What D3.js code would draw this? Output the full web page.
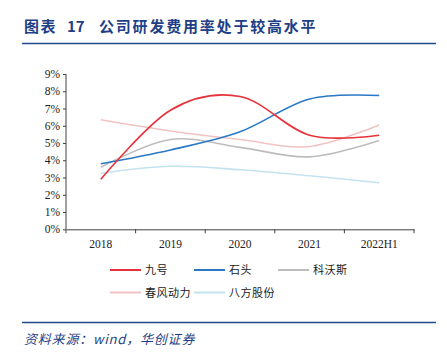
<!DOCTYPE html>
<html>
<head>
<meta charset="utf-8">
<script src="https://cdn.jsdelivr.net/npm/d3@7"></script>
<style>
  body { margin: 0; background: #fff; }
  svg { display: block; }
</style>
</head>
<body>
<svg id="chart" width="447" height="353"></svg>
<script>
// data (R&D expense ratio, %)
var years = ["2018", "2019", "2020", "2021", "2022H1"];
var ninebot = [2.9, 6.9, 7.7, 5.45, 5.45];
var roborock = [3.8, 4.6, 5.65, 7.55, 7.75];
var ecovacs = [3.6, 5.2, 4.75, 4.2, 5.15];
var cfmoto = [6.35, 5.7, 5.2, 4.8, 6.05];
var bafang = [3.25, 3.65, 3.45, 3.1, 2.7];
var yTicks = [0, 1, 2, 3, 4, 5, 6, 7, 8, 9];

var series = [
  { name: "九号", values: ninebot, color: "#e8323b" },
  { name: "石头", values: roborock, color: "#2a78c6" },
  { name: "科沃斯", values: ecovacs, color: "#bdbdbd" },
  { name: "春风动力", values: cfmoto, color: "#f2c3c3" },
  { name: "八方股份", values: bafang, color: "#c3e3ef" }
];

var svg = d3.select("#chart");
var blue = "#1f3f86";

// title, in three pieces to keep the original spacing
[[24, "图表", 1.5], [67, "17", 0], [99, "公司研发费用率处于较高水平", 1.8]].forEach(function(t){
  svg.append("text")
    .attr("x", t[0]).attr("y", 32)
    .attr("font-family", "Noto Sans CJK SC")
    .attr("font-size", 15).attr("font-weight", "bold")
    .attr("letter-spacing", t[2])
    .attr("fill", blue)
    .text(t[1]);
});
svg.append("line")
  .attr("x1", 22).attr("x2", 436).attr("y1", 43.5).attr("y2", 43.5)
  .attr("stroke", "#1f4a8c").attr("stroke-width", 1.5);

var x = d3.scaleBand().domain(years).range([66, 414]);
var y = d3.scaleLinear().domain([0, 9]).range([229.3, 74]);

// y axis
var yAxis = svg.append("g")
  .attr("transform", "translate(66,0)")
  .call(d3.axisLeft(y).tickValues(yTicks).tickSize(3).tickFormat(function(d){ return d + "%"; }));
// x axis
var xAxis = svg.append("g")
  .attr("transform", "translate(0," + y(0) + ")")
  .call(d3.axisBottom(x).tickSize(0));
xAxis.selectAll(".tick text").attr("dy", "1.35em");
// ticks at band edges
svg.selectAll(".xedge")
  .data(years.concat(["end"]))
  .enter().append("line")
  .attr("x1", function(d, i){ return i < years.length ? x(d) : x.range()[1]; })
  .attr("x2", function(d, i){ return i < years.length ? x(d) : x.range()[1]; })
  .attr("y1", y(0)).attr("y2", y(0) + 4)
  .attr("stroke", "#404040");

[yAxis, xAxis].forEach(function(g){
  g.selectAll("path, line").attr("stroke", "#404040");
  g.selectAll("text")
    .attr("font-family", "Liberation Serif")
    .attr("font-size", 11.5)
    .attr("fill", "#222");
});
yAxis.selectAll("path").attr("d", "M0," + y(9) + "V" + y(0));

var line = d3.line()
  .x(function(d, i){ return x(years[i]) + x.bandwidth() / 2; })
  .y(function(d){ return y(d); })
  .curve(d3.curveCatmullRom.alpha(0));

// draw lighter series first so the strong ones sit on top
var order = [3, 4, 2, 1, 0];
order.forEach(function(k){
  var s = series[k];
  svg.append("path")
    .datum(s.values)
    .attr("d", line)
    .attr("fill", "none")
    .attr("stroke", s.color)
    .attr("stroke-width", 1.6);
});

// legend
var legendPos = [[110, 270], [194, 270], [278, 270], [110, 292.5], [194, 292.5]];
series.forEach(function(s, i){
  var p = legendPos[i];
  svg.append("line")
    .attr("x1", p[0]).attr("x2", p[0] + 31)
    .attr("y1", p[1]).attr("y2", p[1])
    .attr("stroke", s.color).attr("stroke-width", 2);
  svg.append("text")
    .attr("x", p[0] + 35).attr("y", p[1] + 4)
    .attr("font-family", "Noto Sans CJK SC")
    .attr("font-size", 11)
    .attr("letter-spacing", 0.5)
    .attr("fill", "#222")
    .text(s.name);
});

// footer
svg.append("line")
  .attr("x1", 22).attr("x2", 436).attr("y1", 322.5).attr("y2", 322.5)
  .attr("stroke", "#1f4a8c").attr("stroke-width", 1.5);
svg.append("text")
  .attr("x", 24).attr("y", 344)
  .attr("font-family", "Noto Sans CJK SC")
  .attr("font-size", 13).attr("font-style", "italic")
  .attr("letter-spacing", 0.8)
  .attr("fill", blue)
  .text("资料来源：wind，华创证券");
</script>
</body>
</html>
